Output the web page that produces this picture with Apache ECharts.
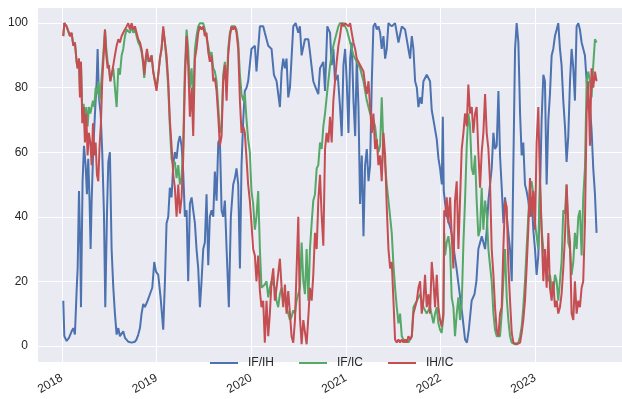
<!DOCTYPE html>
<html>
<head>
<meta charset="utf-8">
<script src="https://cdn.jsdelivr.net/npm/echarts@6/dist/echarts.min.js"></script>
<style>
  html, body { margin: 0; padding: 0; background: #fff; }
  #chart { width: 622px; height: 399px; }
</style>
</head>
<body>
<div id="chart"></div>
<script>
// x values are fractional years
const seriesNames = ['IF/IH', 'IF/IC', 'IH/IC'];
const seriesColors = ['#4C72B0', '#55A868', '#C44E52'];

const ifih = [
  [2018.014,14],[2018.025,3],[2018.049,1.5],[2018.074,2.5],[2018.102,4.5],[2018.120,5.5],[2018.137,3.5],[2018.155,17],[2018.166,24],[2018.180,48],[2018.194,30],[2018.201,12],[2018.218,51],[2018.233,62],[2018.250,56],[2018.264,47],[2018.278,58],[2018.292,45],[2018.303,30],[2018.314,45],[2018.331,61],[2018.349,72],[2018.367,82],[2018.377,92],[2018.391,77],[2018.409,72],[2018.426,60],[2018.444,41],[2018.458,12],[2018.476,41],[2018.490,57],[2018.507,60],[2018.525,30],[2018.543,18],[2018.560,10],[2018.578,3.5],[2018.596,5.5],[2018.613,3],[2018.631,3.5],[2018.648,4.5],[2018.666,2.5],[2018.684,2],[2018.701,1.3],[2018.719,1.5],[2018.737,1],[2018.754,0.8],[2018.772,1.3],[2018.789,2],[2018.807,3.5],[2018.825,5.5],[2018.842,10],[2018.860,13],[2018.877,12],[2018.906,14],[2018.930,16],[2018.955,18],[2018.976,26],[2018.994,23],
  [2019.018,22],[2019.043,15],[2019.071,5],[2019.089,20],[2019.106,38],[2019.124,40],[2019.141,49],[2019.159,46],[2019.177,56],[2019.194,60],[2019.212,58],[2019.230,63],[2019.247,65],[2019.265,62],[2019.282,54],[2019.300,40],[2019.318,42],[2019.335,20],[2019.353,44],[2019.371,46],[2019.388,42],[2019.406,38],[2019.423,30],[2019.441,24],[2019.459,12],[2019.476,20],[2019.494,30],[2019.511,32],[2019.529,47],[2019.547,25],[2019.564,40],[2019.582,42],[2019.600,40],[2019.617,54],[2019.635,45],[2019.653,63],[2019.670,64],[2019.688,42],[2019.705,40],[2019.723,45],[2019.741,30],[2019.765,12],[2019.786,40],[2019.811,50],[2019.829,52],[2019.846,55],[2019.864,50],[2019.882,24],[2019.899,56],[2019.917,70],[2019.934,79],[2019.952,80],[2019.969,82],
  [2020.004,92],[2020.040,93],[2020.057,85],[2020.093,99],[2020.128,99],[2020.145,97],[2020.181,93],[2020.216,92],[2020.241,84],[2020.269,82],[2020.304,74],[2020.322,85],[2020.339,89],[2020.357,86],[2020.374,89],[2020.392,77],[2020.410,80],[2020.445,99],[2020.470,100],[2020.498,97],[2020.515,99],[2020.533,90],[2020.568,95],[2020.604,95],[2020.621,91],[2020.656,82],[2020.681,80],[2020.709,78],[2020.727,86],[2020.762,88],[2020.780,79],[2020.804,99],[2020.833,97],[2020.850,87],[2020.868,92],[2020.885,82],[2020.914,84],[2020.938,74],[2020.956,65],[2020.974,87],[2020.992,92],
  [2021.009,82],[2021.027,66],[2021.045,89],[2021.062,94],[2021.080,76],[2021.098,65],[2021.115,89],[2021.133,74],[2021.150,44],[2021.168,59],[2021.186,34],[2021.203,56],[2021.221,61],[2021.239,51],[2021.256,56],[2021.274,82],[2021.291,99],[2021.309,100],[2021.327,98],[2021.344,99],[2021.362,97],[2021.379,92],[2021.397,96],[2021.415,89],[2021.432,92],[2021.450,100],[2021.485,99],[2021.520,100],[2021.556,94],[2021.591,99],[2021.626,98],[2021.661,92],[2021.679,89],[2021.697,96],[2021.714,92],[2021.732,82],[2021.750,80],[2021.767,74],[2021.785,77],[2021.802,75],[2021.820,82],[2021.855,84],[2021.890,82],[2021.908,73],[2021.926,70],[2021.961,64],[2021.979,58],[2021.996,55],
  [2022.014,50],[2022.025,71],[2022.035,48],[2022.050,44],[2022.070,40],[2022.090,38],[2022.110,36],[2022.130,33],[2022.150,28],[2022.170,24],[2022.200,17],[2022.230,10],[2022.260,2],[2022.280,1],[2022.300,5],[2022.330,14],[2022.360,16],[2022.380,20],[2022.401,30],[2022.437,34],[2022.472,30],[2022.490,36],[2022.507,45],[2022.542,55],[2022.560,66],[2022.577,61],[2022.595,62],[2022.613,79],[2022.630,59],[2022.648,49],[2022.666,38],[2022.683,46],[2022.701,40],[2022.718,35],[2022.736,30],[2022.754,20],[2022.771,56],[2022.789,92],[2022.806,100],[2022.824,94],[2022.842,72],[2022.859,59],[2022.876,63],[2022.894,50],[2022.911,48],[2022.929,45],[2022.947,40],[2022.964,46],[2022.982,36],
  [2023.000,30],[2023.017,22],[2023.035,28],[2023.052,47],[2023.070,70],[2023.088,84],[2023.105,82],[2023.123,50],[2023.141,70],[2023.158,78],[2023.176,90],[2023.193,92],[2023.211,96],[2023.229,98],[2023.246,100],[2023.264,92],[2023.281,87],[2023.299,76],[2023.317,68],[2023.334,57],[2023.352,65],[2023.370,82],[2023.387,92],[2023.405,86],[2023.422,76],[2023.440,99],[2023.458,100],[2023.475,98],[2023.493,94],[2023.510,94],[2023.528,90],[2023.546,82],[2023.563,77],[2023.581,74],[2023.598,67],[2023.616,55],[2023.634,47],[2023.651,35]
];

const ific = [
  [2018.014,96],[2018.025,100],[2018.049,99],[2018.067,99],[2018.085,96],[2018.102,97],[2018.120,93],[2018.137,94],[2018.155,88],[2018.166,86],[2018.180,89],[2018.190,79],[2018.201,88],[2018.215,72],[2018.229,75],[2018.243,70],[2018.257,74],[2018.271,68],[2018.285,74],[2018.300,72],[2018.314,74],[2018.328,76],[2018.342,74],[2018.356,80],[2018.370,78],[2018.384,82],[2018.398,76],[2018.412,80],[2018.426,86],[2018.441,92],[2018.455,98],[2018.469,92],[2018.483,88],[2018.497,86],[2018.511,82],[2018.525,84],[2018.543,86],[2018.560,80],[2018.578,74],[2018.596,86],[2018.613,84],[2018.631,90],[2018.648,92],[2018.666,96],[2018.684,98],[2018.701,98],[2018.719,97],[2018.737,99],[2018.754,97],[2018.772,98],[2018.789,96],[2018.807,94],[2018.825,93],[2018.842,91],[2018.860,87],[2018.870,83],[2018.885,88],[2018.899,91],[2018.913,88],
  [2018.930,88],[2018.948,90],[2018.965,85],[2018.983,82],[2019.000,80],[2019.018,84],[2019.036,89],[2019.053,92],[2019.071,98],[2019.089,94],[2019.106,88],[2019.124,80],[2019.141,68],[2019.159,58],[2019.177,56],[2019.194,57],[2019.212,52],[2019.230,56],[2019.247,50],[2019.265,52],[2019.282,62],[2019.300,86],[2019.318,98],[2019.335,92],[2019.353,80],[2019.371,86],[2019.388,76],[2019.406,92],[2019.423,96],[2019.441,99],[2019.459,100],[2019.476,100],[2019.494,100],[2019.511,98],[2019.529,98],[2019.547,93],[2019.564,90],[2019.582,91],[2019.600,86],[2019.617,85],[2019.635,82],[2019.653,74],[2019.670,66],[2019.688,68],[2019.705,84],[2019.723,88],[2019.741,80],[2019.758,92],[2019.776,97],[2019.794,99],[2019.811,99],[2019.829,99],[2019.846,98],[2019.864,94],[2019.882,84],[2019.899,78],[2019.917,76],[2019.934,78],[2019.952,70],[2019.969,64],
  [2019.987,60],[2020.004,48],[2020.022,44],[2020.040,36],[2020.057,40],[2020.075,48],[2020.093,30],[2020.110,18],[2020.128,18],[2020.145,19],[2020.163,20],[2020.181,15],[2020.198,18],[2020.216,20],[2020.234,20],[2020.251,18],[2020.269,14],[2020.286,12],[2020.304,16],[2020.322,18],[2020.339,14],[2020.357,15],[2020.374,12],[2020.392,10],[2020.410,8],[2020.427,9],[2020.445,11],[2020.463,10],[2020.480,14],[2020.498,14],[2020.515,18],[2020.533,32],[2020.551,20],[2020.568,16],[2020.586,30],[2020.604,14],[2020.621,30],[2020.639,38],[2020.656,45],[2020.674,47],[2020.692,55],[2020.709,56],[2020.727,63],[2020.745,61],[2020.762,68],[2020.780,72],[2020.797,77],[2020.815,82],[2020.833,87],[2020.850,90],[2020.868,93],[2020.885,95],[2020.903,97],[2020.921,99],[2020.938,100],[2020.956,100],
  [2020.974,100],[2021.009,98],[2021.045,94],[2021.080,90],[2021.115,88],[2021.150,86],[2021.186,82],[2021.221,76],[2021.256,72],[2021.291,70],[2021.309,68],[2021.327,63],[2021.344,60],[2021.362,62],[2021.379,77],[2021.397,62],[2021.415,56],[2021.432,50],[2021.450,45],[2021.468,40],[2021.485,35],[2021.503,25],[2021.520,18],[2021.538,12],[2021.556,7],[2021.573,10],[2021.591,3],[2021.609,2],[2021.626,1],[2021.644,2],[2021.661,1],[2021.679,2],[2021.697,3],[2021.714,12],[2021.750,14],[2021.785,16],[2021.820,12],[2021.855,10],[2021.890,12],[2021.926,7],
  [2021.943,10],[2021.961,12],[2021.978,7],[2021.996,5],[2022.013,4],[2022.031,9],[2022.040,35],[2022.049,28],[2022.066,32],[2022.084,34],[2022.102,30],[2022.119,15],[2022.137,12],[2022.154,3],[2022.172,10],[2022.190,15],[2022.207,8],[2022.225,13],[2022.243,32],[2022.260,45],[2022.278,62],[2022.295,72],[2022.313,68],[2022.331,55],[2022.348,53],[2022.366,59],[2022.383,45],[2022.401,34],[2022.419,36],[2022.436,49],[2022.454,36],[2022.472,45],[2022.489,41],[2022.507,30],[2022.524,25],[2022.542,20],[2022.560,10],[2022.577,5],[2022.595,3],[2022.613,3],[2022.630,3],[2022.648,10],[2022.665,20],[2022.683,30],[2022.701,15],[2022.718,8],[2022.736,3],[2022.754,1],[2022.771,0.5],[2022.789,0.5],[2022.806,1],[2022.824,1],[2022.842,3],
  [2022.859,6],[2022.876,12],[2022.894,20],[2022.911,30],[2022.929,40],[2022.947,49],[2022.964,51],[2022.982,47],[2023.000,38],[2023.017,34],[2023.035,30],[2023.052,52],[2023.070,36],[2023.088,30],[2023.105,28],[2023.123,24],[2023.141,20],[2023.158,22],[2023.176,18],[2023.193,16],[2023.211,22],[2023.229,20],[2023.246,14],[2023.264,14],[2023.281,26],[2023.299,42],[2023.317,41],[2023.334,50],[2023.352,32],[2023.370,30],[2023.387,22],[2023.405,26],[2023.422,35],[2023.440,30],[2023.458,40],[2023.475,42],[2023.493,28],[2023.510,46],[2023.528,55],[2023.546,82],[2023.563,85],[2023.581,82],[2023.598,77],[2023.616,87],[2023.634,95],[2023.651,94]
];

const ihic = [
  [2018.014,96],[2018.025,100],[2018.049,99],[2018.067,99],[2018.085,96],[2018.102,97],[2018.120,93],[2018.137,94],[2018.155,88],[2018.166,86],[2018.180,89],[2018.190,77],[2018.201,88],[2018.215,69],[2018.229,74],[2018.243,63],[2018.257,72],[2018.271,59],[2018.285,66],[2018.300,63],[2018.314,56],[2018.328,69],[2018.342,59],[2018.356,63],[2018.370,53],[2018.384,51],[2018.398,62],[2018.412,69],[2018.426,82],[2018.441,90],[2018.455,98],[2018.469,90],[2018.483,86],[2018.497,87],[2018.511,82],[2018.525,84],[2018.543,87],[2018.560,90],[2018.578,93],[2018.596,95],[2018.613,94],[2018.631,96],[2018.648,97],[2018.666,98],[2018.684,99],[2018.701,100],[2018.719,98],[2018.737,100],[2018.754,98],[2018.772,99],[2018.789,97],[2018.807,95],[2018.825,94],[2018.842,92],[2018.860,88],[2018.870,84],[2018.885,89],[2018.899,92],[2018.913,89],
  [2018.930,88],[2018.948,90],[2018.965,85],[2018.983,82],[2019.000,79],[2019.018,84],[2019.036,89],[2019.053,92],[2019.071,99],[2019.089,94],[2019.106,90],[2019.124,82],[2019.141,70],[2019.159,62],[2019.177,53],[2019.194,49],[2019.212,40],[2019.230,50],[2019.247,41],[2019.265,46],[2019.282,58],[2019.300,82],[2019.318,96],[2019.335,87],[2019.353,71],[2019.371,80],[2019.388,65],[2019.406,89],[2019.423,92],[2019.441,97],[2019.459,99],[2019.476,98],[2019.494,99],[2019.511,96],[2019.529,97],[2019.547,91],[2019.564,88],[2019.582,90],[2019.600,82],[2019.617,83],[2019.635,79],[2019.653,71],[2019.670,62],[2019.688,65],[2019.705,82],[2019.723,87],[2019.741,76],[2019.758,90],[2019.776,96],[2019.794,99],[2019.811,98],[2019.829,99],[2019.846,97],[2019.864,92],[2019.882,76],[2019.899,66],[2019.917,68],[2019.934,66],[2019.952,58],[2019.969,50],[2019.987,45],
  [2020.004,38],[2020.022,30],[2020.040,28],[2020.057,20],[2020.075,28],[2020.093,17],[2020.110,12],[2020.128,14],[2020.145,1],[2020.163,14],[2020.181,3],[2020.198,10],[2020.216,20],[2020.234,24],[2020.251,14],[2020.269,18],[2020.286,18],[2020.304,27],[2020.322,18],[2020.339,12],[2020.357,19],[2020.374,10],[2020.392,17],[2020.410,10],[2020.427,3],[2020.445,1],[2020.463,8],[2020.480,8],[2020.498,40],[2020.515,9],[2020.533,0.5],[2020.551,8],[2020.568,8],[2020.586,0.5],[2020.604,9],[2020.621,18],[2020.639,14],[2020.656,22],[2020.674,35],[2020.692,30],[2020.709,45],[2020.727,53],[2020.745,40],[2020.762,31],[2020.780,61],[2020.797,66],[2020.815,63],[2020.833,71],[2020.850,63],[2020.868,76],[2020.885,82],[2020.903,88],[2020.921,93],[2020.938,96],[2020.956,100],
  [2020.974,99],[2020.992,100],[2021.009,100],[2021.027,99],[2021.045,100],[2021.062,97],[2021.080,94],[2021.098,92],[2021.115,89],[2021.133,88],[2021.150,88],[2021.168,86],[2021.186,85],[2021.203,81],[2021.221,78],[2021.239,82],[2021.256,74],[2021.274,66],[2021.291,72],[2021.309,61],[2021.327,64],[2021.344,56],[2021.362,59],[2021.379,51],[2021.397,66],[2021.415,59],[2021.432,43],[2021.450,30],[2021.468,24],[2021.485,26],[2021.503,14],[2021.520,2],[2021.538,1],[2021.556,2],[2021.573,1],[2021.591,2],[2021.609,1],[2021.626,2],[2021.644,1],[2021.661,3],[2021.679,2],[2021.697,3],[2021.714,10],[2021.732,12],[2021.750,14],[2021.767,18],[2021.785,20],[2021.802,10],[2021.820,14],[2021.837,22],[2021.855,12],[2021.873,16],[2021.890,10],[2021.908,26],[2021.926,20],
  [2021.943,12],[2021.961,22],[2021.978,12],[2021.996,8],[2022.013,6],[2022.031,10],[2022.040,42],[2022.049,40],[2022.066,46],[2022.084,38],[2022.102,46],[2022.119,34],[2022.137,24],[2022.154,45],[2022.172,51],[2022.190,30],[2022.207,45],[2022.225,61],[2022.243,66],[2022.260,72],[2022.278,68],[2022.295,81],[2022.313,72],[2022.331,74],[2022.348,66],[2022.366,72],[2022.383,74],[2022.401,60],[2022.419,49],[2022.436,60],[2022.454,66],[2022.472,78],[2022.489,66],[2022.507,61],[2022.524,51],[2022.542,30],[2022.560,22],[2022.577,12],[2022.595,5],[2022.613,3],[2022.630,10],[2022.648,12],[2022.665,30],[2022.683,45],[2022.701,43],[2022.718,25],[2022.736,14],[2022.754,4],[2022.771,1],[2022.789,1],[2022.806,0.5],[2022.824,1],[2022.842,1],[2022.859,4],[2022.876,8],[2022.894,14],[2022.911,24],[2022.929,36],[2022.947,52],[2022.964,40],[2022.982,48],
  [2023.000,36],[2023.017,63],[2023.035,74],[2023.052,51],[2023.070,36],[2023.088,20],[2023.105,30],[2023.123,18],[2023.141,35],[2023.158,18],[2023.176,14],[2023.193,20],[2023.211,12],[2023.229,14],[2023.246,10],[2023.264,12],[2023.281,16],[2023.299,24],[2023.317,34],[2023.334,50],[2023.352,38],[2023.370,32],[2023.387,10],[2023.405,8],[2023.422,20],[2023.440,10],[2023.458,14],[2023.475,12],[2023.493,18],[2023.510,20],[2023.528,38],[2023.546,72],[2023.563,82],[2023.581,62],[2023.598,86],[2023.616,80],[2023.634,85],[2023.651,82]
];

const xRange = [2017.736, 2023.92];

function yearToTime(y) {
  const yr = Math.floor(y);
  const a = Date.UTC(yr, 0, 1);
  const b = Date.UTC(yr + 1, 0, 1);
  return a + (y - yr) * (b - a);
}

const font = 'Liberation Sans, Arial, sans-serif';
const chart = echarts.init(document.getElementById('chart'));

chart.setOption({
  animation: false,
  useUTC: true,
  color: seriesColors,
  grid: {
    left: 37, right: 0, top: 7, bottom: 37,
    show: true, backgroundColor: '#EAEAF2', borderWidth: 0
  },
  legend: {
    left: 205, top: 352,
    icon: 'rect',
    itemWidth: 28, itemHeight: 2, itemGap: 25,
    textStyle: { fontFamily: font, fontSize: 12, color: '#262626', padding: [0, 0, 0, 5] },
    data: seriesNames
  },
  xAxis: {
    type: 'time',
    min: yearToTime(xRange[0]),
    max: yearToTime(xRange[1]),
    splitNumber: 6,
    minInterval: 365 * 86400000,
    axisLine: { show: false },
    axisTick: { show: false },
    splitLine: { show: true, lineStyle: { color: '#ffffff', width: 1 } },
    axisLabel: {
      rotate: 30, margin: 15, fontFamily: font, fontSize: 12, color: '#262626',
      showMinLabel: false, showMaxLabel: false,
      formatter: v => String(new Date(v).getUTCFullYear())
    }
  },
  yAxis: {
    type: 'value',
    min: -5, max: 105, splitNumber: 5,
    axisLine: { show: false },
    axisTick: { show: false },
    splitLine: { lineStyle: { color: '#ffffff', width: 1 } },
    axisLabel: {
      margin: 9, fontFamily: font, fontSize: 12, color: '#262626',
      showMinLabel: false, showMaxLabel: false
    }
  },
  series: [ifih, ific, ihic].map((d, i) => ({
    name: seriesNames[i],
    type: 'line',
    symbol: 'none',
    showSymbol: false,
    lineStyle: { width: 2 },
    data: d.map(p => [yearToTime(p[0]), p[1]])
  }))
});
</script>
</body>
</html>
